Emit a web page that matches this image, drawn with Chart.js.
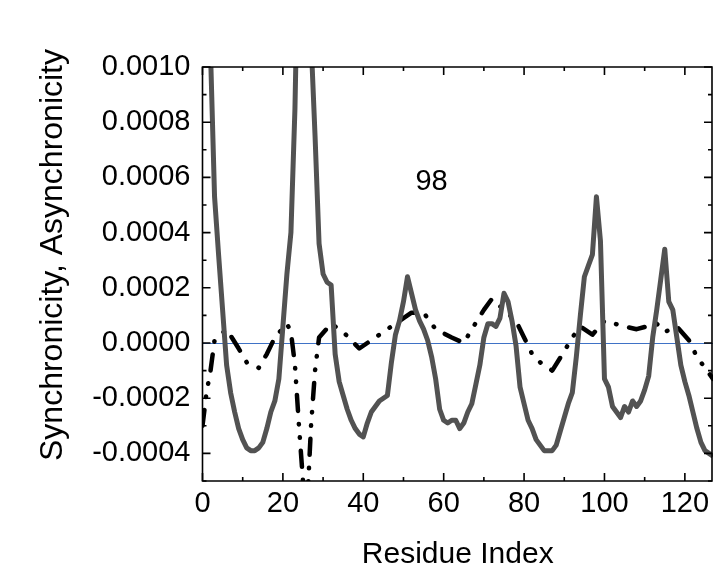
<!DOCTYPE html>
<html>
<head>
<meta charset="utf-8">
<script src="https://cdn.jsdelivr.net/npm/chart.js@4.4.1/dist/chart.umd.min.js"></script>
<style>
  html, body { margin: 0; padding: 0; background: #fff; overflow: hidden; }
  #wrap { width: 713px; height: 567px; position: relative; }
</style>
</head>
<body>
<div id="wrap"><canvas id="chart"></canvas></div>
<script>
// residue index for the solid curve
const residues = [
  1, 2, 3, 4, 5, 6, 7, 8, 9, 10, 11, 12, 13, 14, 15, 16, 17, 18, 19, 20,
  21, 22, 23, 24, 25, 26, 27, 28, 29, 30, 31, 32, 33, 34, 35, 36, 37, 38, 39, 40,
  41, 42, 43, 44, 45, 46, 47, 48, 49, 50, 51, 52, 53, 54, 55, 56, 57, 58, 59, 60,
  61, 62, 63, 64, 65, 66, 67, 68, 69, 70, 71, 72, 73, 74, 75, 76, 77, 78, 79, 80,
  81, 82, 83, 84, 85, 86, 87, 88, 89, 90, 91, 92, 93, 94, 95, 96, 97, 98, 99, 100,
  101, 102, 103, 104, 105, 106, 107, 108, 109, 110, 111, 112, 113, 114, 115, 116, 117, 118, 119, 120,
  121, 122, 123, 124, 125, 126, 127
];

// synchronicity (solid grey)
const synchronicity = [
  0.0018, 0.00105, 0.00053, 0.00032, 0.00012, -0.00008, -0.00018, -0.00025, -0.00031, -0.00035,
  -0.00038, -0.00039, -0.00039, -0.00038, -0.00036, -0.00031, -0.00025, -0.00021, -0.00013, 0.00006,
  0.00025, 0.00040, 0.00085, 0.0016, 0.0021, 0.0017, 0.0011, 0.00075, 0.00036, 0.00025,
  0.00022, 0.00021, -0.00004, -0.00014, -0.00019, -0.00024, -0.00028, -0.00031, -0.00033, -0.00034,
  -0.00029, -0.00025, -0.00023, -0.00021, -0.00020, -0.00019, -0.00007, 0.00003, 0.00008, 0.00015,
  0.00024, 0.00018, 0.00012, 0.00008, 0.00005, 0.00001, -0.00005, -0.00013, -0.00024, -0.00028,
  -0.00029, -0.00028, -0.00028, -0.00031, -0.00029, -0.00025, -0.00022, -0.00015, -0.00008, 0.00002,
  0.00007, 0.00007, 0.00006, 0.00009, 0.00018, 0.00015, 0.00008, -0.00001, -0.00016, -0.00022,
  -0.00028, -0.00031, -0.00035, -0.00037, -0.00039, -0.00039, -0.00039, -0.00037, -0.00032, -0.00027,
  -0.00022, -0.00018, -0.00005, 0.00010, 0.00024, 0.00028, 0.00032, 0.00053, 0.00037, -0.00013,
  -0.00016, -0.00023, -0.00025, -0.00027, -0.00023, -0.00025, -0.00021, -0.00023, -0.00021, -0.00017,
  -0.00012, 0.00002, 0.00012, 0.00023, 0.00034, 0.00015, 0.00012, 0.00002, -0.00008, -0.00014,
  -0.00019, -0.00025, -0.00031, -0.00036, -0.00039, -0.00040, -0.00041
];

// asynchronicity (black dash-dot)
const asyncResidues = [
  0, 1, 2, 3, 6, 9, 11, 14, 16, 18, 21, 22, 23, 24, 25, 26, 27, 28, 29, 32,
  35, 39, 41, 46, 50, 52, 55, 58, 62, 65, 67, 70, 72, 75, 78, 80, 82, 84, 87, 90,
  92, 94, 97, 100, 105, 108, 113, 115, 118, 121, 123, 127
];
const asynchronicity = [
  -0.0003, -0.00018, -0.0001, 0.00001, 0.00005, -0.00002, -0.00007, -0.00009, -0.00004, 0.00002,
  0.00007, 0.00004, -0.00008, -0.0003, -0.0005, -0.0006, -0.0003, -0.0001, 0.00002, 0.00007,
  0.00004, -0.00002, 0.0, 0.00005, 0.00009, 0.00011, 0.00011, 0.00005, 0.00002, 0.0,
  0.00005, 0.00012, 0.00016, 0.00012, 0.00008, 0.00002, -0.00004, -0.00007, -0.0001, -0.00003,
  0.00002, 0.00006, 0.00003, 0.00008, 0.00006, 0.00005, 0.00007, 0.00004, 0.00006, 0.00001,
  -0.00005, -0.00013
];

const xTicks = [0, 20, 40, 60, 80, 100, 120];
const xMinorTicks = [10, 30, 50, 70, 90, 110];
const yTicks = [-0.0004, -0.0002, 0, 0.0002, 0.0004, 0.0006, 0.0008, 0.0010];
const yMinorTicks = [-0.0005, -0.0003, -0.0001, 0.0001, 0.0003, 0.0005, 0.0007, 0.0009];

const FONT = "'Liberation Sans', Arial, sans-serif";

// frame, inward ticks, titles and the "98" note
const decorations = {
  id: "decorations",
  afterDraw(chart) {
    const { ctx, chartArea: a, scales } = chart;
    const xs = scales.x, ys = scales.y;
    const right = a.right - 1;
    ctx.save();
    ctx.setLineDash([]);
    ctx.lineCap = "butt";
    ctx.strokeStyle = "#000";
    ctx.lineWidth = 1.6;

    ctx.beginPath();
    ctx.moveTo(a.left, a.top);
    ctx.lineTo(right, a.top);
    ctx.lineTo(right, a.bottom);
    ctx.lineTo(a.left, a.bottom);
    ctx.closePath();
    ctx.stroke();

    ctx.beginPath();
    const tickX = (v, len) => {
      const px = xs.getPixelForValue(v);
      ctx.moveTo(px, a.bottom); ctx.lineTo(px, a.bottom - len);
      ctx.moveTo(px, a.top); ctx.lineTo(px, a.top + len);
    };
    const tickY = (v, len) => {
      const py = ys.getPixelForValue(v);
      ctx.moveTo(a.left, py); ctx.lineTo(a.left + len, py);
      ctx.moveTo(right, py); ctx.lineTo(right - len, py);
    };
    xTicks.forEach(v => tickX(v, 8));
    xMinorTicks.forEach(v => tickX(v, 4));
    yTicks.forEach(v => tickY(v, 8));
    yMinorTicks.forEach(v => tickY(v, 4));
    ctx.stroke();

    ctx.fillStyle = "#000";
    ctx.font = "29px " + FONT;
    ctx.textAlign = "center";
    ctx.textBaseline = "alphabetic";
    ctx.fillText("98", xs.getPixelForValue(57), ys.getPixelForValue(0.000554));

    ctx.font = "30px " + FONT;
    ctx.fillText("Residue Index", (a.left + a.right) / 2, 563);

    ctx.translate(62, 255);
    ctx.rotate(-Math.PI / 2);
    ctx.font = "32px " + FONT;
    ctx.fillText("Synchronicity, Asynchronicity", 0, 0);
    ctx.restore();
  }
};

new Chart(document.getElementById("chart"), {
  type: "line",
  data: {
    datasets: [
      {
        label: "Synchronicity",
        data: residues.map((r, i) => ({ x: r, y: synchronicity[i] })),
        borderColor: "#525252",
        borderWidth: 5,
        borderJoinStyle: "round",
        pointRadius: 0,
        tension: 0,
        clip: 0
      },
      {
        label: "Asynchronicity",
        data: asyncResidues.map((r, i) => ({ x: r, y: asynchronicity[i] })),
        borderColor: "#000",
        borderWidth: 4.5,
        borderDash: [16, 13, 0.5, 13, 0.5, 13],
        borderCapStyle: "round",
        borderJoinStyle: "round",
        pointRadius: 0,
        tension: 0,
        clip: 0
      }
    ]
  },
  options: {
    responsive: true,
    maintainAspectRatio: false,
    animation: false,
    layout: { padding: { top: 67, left: 0, right: 0, bottom: 0 } },
    plugins: {
      legend: { display: false },
      tooltip: { enabled: false }
    },
    scales: {
      x: {
        type: "linear",
        min: 0,
        max: 127,
        afterBuildTicks: s => { s.ticks = xTicks.map(v => ({ value: v })); },
        afterFit: s => { s.height = 86; s.paddingLeft = 0; s.paddingRight = 0; },
        grid: { display: false, drawTicks: false },
        border: { display: false },
        ticks: {
          padding: 6,
          color: "#000",
          maxRotation: 0,
          font: { family: FONT, size: 29 }
        }
      },
      y: {
        type: "linear",
        min: -0.0005,
        max: 0.0010,
        afterBuildTicks: s => { s.ticks = yTicks.map(v => ({ value: v })); },
        afterFit: s => { s.width = 202.5; s.paddingTop = 0; s.paddingBottom = 0; },
        grid: {
          drawTicks: false,
          lineWidth: 1,
          color: c => (c.tick && c.tick.value === 0 ? "#3f72c6" : "rgba(0,0,0,0)")
        },
        border: { display: false },
        ticks: {
          padding: 12,
          color: "#000",
          font: { family: FONT, size: 29 },
          callback: v => v.toFixed(4)
        }
      }
    }
  },
  plugins: [decorations]
});
</script>
</body>
</html>
